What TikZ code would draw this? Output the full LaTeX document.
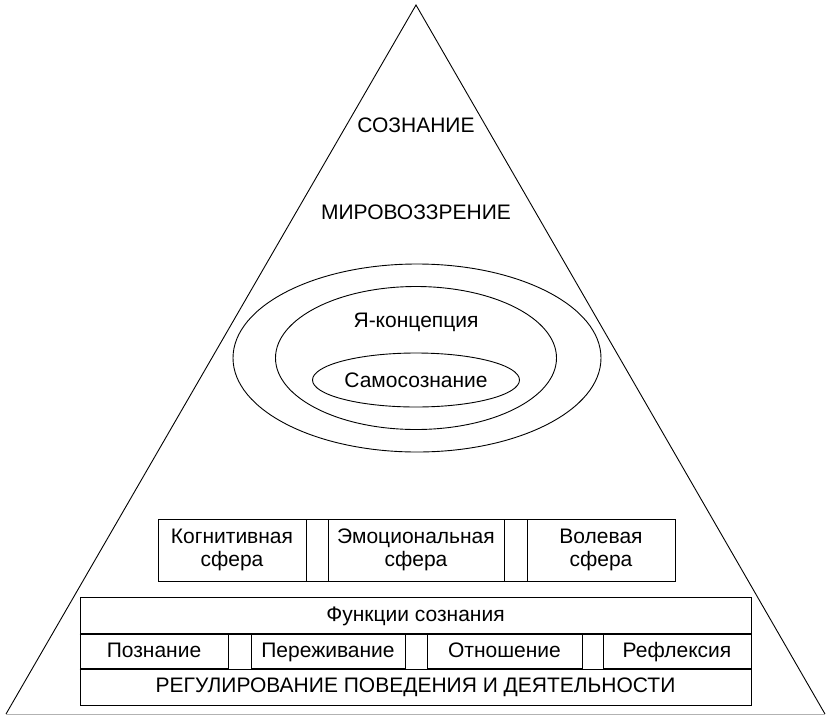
\documentclass[tikz,border=0pt]{standalone}
\usepackage{fontspec}
\setmainfont{Liberation Sans}
\usetikzlibrary{shapes.geometric}

\begin{document}
\begin{tikzpicture}[x=1pt,y=-1pt,line width=0.9pt,
    lbl/.style={font=\fontsize{21}{23}\selectfont},
    cell/.style={draw,lbl,inner sep=0pt,align=center,minimum height=#1},
    row/.style={cell=34pt,text height=15pt,text depth=4pt},
    ring/.style={draw,ellipse,inner sep=0pt}]
        \useasboundingbox (0,0) rectangle (827,716);

        \coordinate (A) at (416,5); % apex
        \coordinate (BL) at (6,714);
        \coordinate (BR) at (825,714);

        % pyramid
        \draw (BL) -- (A) -- (BR);
        \draw[gray!60] (BL) -- (BR);

        \node[lbl] (soz) at (416,125) {СОЗНАНИЕ};
        \node[lbl] (mir) at (416,212) {МИРОВОЗЗРЕНИЕ};

        % ellipses
        \node[ring,minimum width=368pt,minimum height=188pt] (outer) at (417,358) {};
        \node[ring,minimum width=281pt,minimum height=143pt] (middle) at (416,358) {};
        \node[ring,minimum width=207pt,minimum height=54pt] (inner) at (416,380) {};
        \node[lbl] (ya) at (416,322) {Я-концепция};
        \node[lbl] (samo) at (inner) {Самосознание};

        % spheres
        \draw (158,519) rectangle (675,581);
        \node[cell=62pt,minimum width=148pt] (kog) at (232,550) {Когнитивная\\сфера};
        \node[cell=62pt,minimum width=176pt] (emo) at (416,550) {Эмоциональная\\сфера};
        \node[cell=62pt,minimum width=148pt] (vol) at (601,550) {Волевая\\сфера};

        % functions
        \node[row,minimum height=36pt,minimum width=671pt] (fun) at (415.5,615.5) {Функции сознания};
        \node[row,minimum width=148pt] (poz) at (154,651.5) {Познание};
        \node[row,minimum width=154pt] (per) at (328,651.5) {Переживание};
        \node[row,minimum width=155pt] (otn) at (504.5,651.5) {Отношение};
        \node[row,minimum width=148pt] (ref) at (677,651.5) {Рефлексия};
        \node[row,minimum height=36pt,minimum width=671pt] (reg) at (415.5,687) {РЕГУЛИРОВАНИЕ ПОВЕДЕНИЯ И ДЕЯТЕЛЬНОСТИ};
        \draw (poz.north west) -- (ref.north east);
        \draw (poz.south west) -- (ref.south east);
\end{tikzpicture}
\end{document}
